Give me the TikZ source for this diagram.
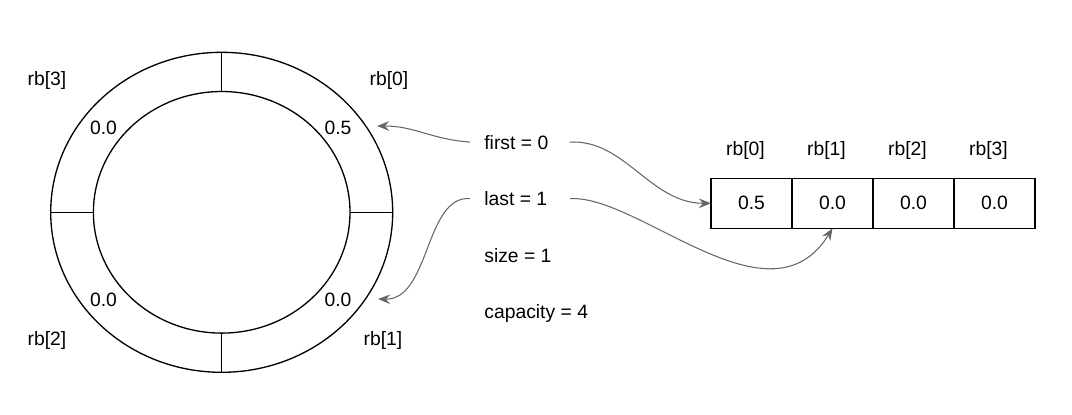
\documentclass[tikz,border=0pt]{standalone}
\usepackage{fontspec}
\setmainfont{Liberation Sans}
\usetikzlibrary{arrows.meta}
\tikzset{
	lbl/.style={font=\fontsize{11}{13}\selectfont, inner sep=0pt},
	cell/.style={draw, line width=0.75pt, font=\fontsize{11}{13}\selectfont, minimum width=1.62cm, minimum height=1cm, inner sep=0pt, outer sep=0pt},
	ptr/.style={draw=black!60, line width=0.6pt, -{Stealth[length=7pt,width=5.5pt,inset=2.5pt]}}
}
\begin{document}
\begin{tikzpicture}[x=0.02cm, y=-0.02cm]
		\useasboundingbox (0,0) rectangle (1072,414);
		% ring
		\draw[line width=0.75pt] (221.7,212.3) ellipse [x radius=171, y radius=160];
		\draw[line width=0.75pt] (221.7,212.3) ellipse [x radius=128.3, y radius=120.8];
		\draw[line width=0.75pt] (221.7,52.3) -- (221.7,91.5);
		\draw[line width=0.75pt] (221.7,333.1) -- (221.7,372.3);
		\draw[line width=0.75pt] (50.7,212.3) -- (93.4,212.3);
		\draw[line width=0.75pt] (350,212.3) -- (392.7,212.3);
		\node[lbl] (r0) at (389,80) {rb[0]};
		\node[lbl] (r1) at (383,340) {rb[1]};
		\node[lbl] (r2) at (47,340) {rb[2]};
		\node[lbl] (r3) at (47,80) {rb[3]};
		\node[lbl] (v0) at (338,128) {0.5};
		\node[lbl] (v1) at (338,300) {0.0};
		\node[lbl] (v2) at (103.5,300) {0.0};
		\node[lbl] (v3) at (103.5,128) {0.0};
		\coordinate (p0) at (377,126);
		\coordinate (p1) at (378,299);
		% fields
		\node[lbl, anchor=base west] (first) at (484,149) {first = 0};
		\node[lbl, anchor=base west] (last) at (484,205.5) {last = 1};
		\node[lbl, anchor=base west] (size) at (484,262) {size = 1};
		\node[lbl, anchor=base west] (capacity) at (484,318.5) {capacity = 4};
		% array
		\foreach \v [count=\i from 0] in {0.5,0.0,0.0,0.0} {
			\node[cell] (c\i) at ({751.5+81*\i},203.3) {\v};
			\node[lbl] (h\i) at ({745.5+81*\i},150) {rb[\i]};
		}
		% pointers
		\draw[ptr] ([xshift=-0.28cm]first.west) .. controls (430,139) and (415,126) .. (p0);
		\draw[ptr] ([xshift=0.42cm]first.east) .. controls (625,139) and (650,203.3) .. (c0.west);
		\draw[ptr] ([xshift=-0.28cm]last.west) .. controls (425,195) and (430,300) .. (p1);
		\draw[ptr] ([xshift=0.45cm]last.east) .. controls (640,195) and (770,330) .. (c1.south);
\end{tikzpicture}
\end{document}
